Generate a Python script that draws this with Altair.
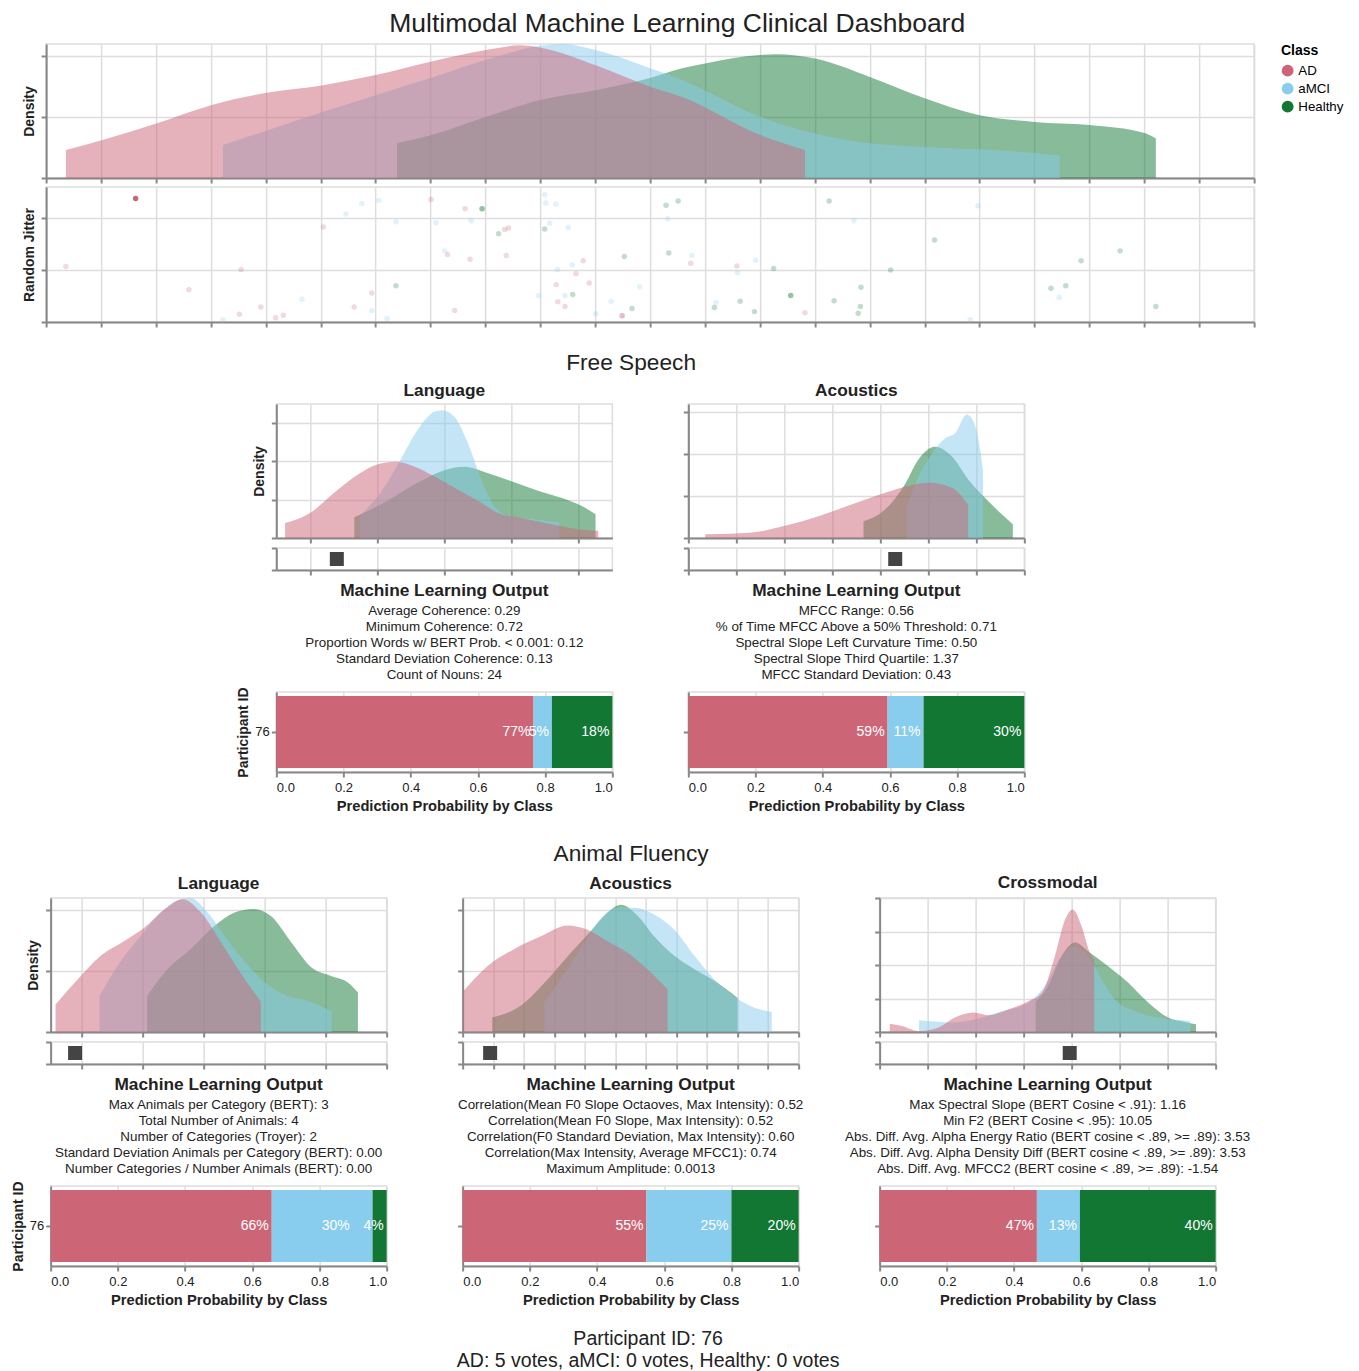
import altair as alt
import pandas as pd

FONT = "Liberation Sans"
CLASSES = ["AD", "aMCI", "Healthy"]
CLASS_COLORS = ["#CC6677", "#88CCEE", "#117733"]
AREA_DRAW_ORDER = ["Healthy", "aMCI", "AD"]
PARTICIPANT = "76"

MAIN_TITLE = "Multimodal Machine Learning Clinical Dashboard"
FOOTER = ["Participant ID: 76", "AD: 5 votes, aMCI: 0 votes, Healthy: 0 votes"]

# ---------------- overview (composite score, x in grid steps) ----------------
top_ad_x = [0.36, 1.01, 2.02, 3.02, 4.02, 5.02, 6.00, 7.00, 8.01, 8.63, 9.01, 10.01, 11.00, 11.58, 13.02, 13.82]
top_ad_y = [0.46, 0.62, 0.90, 1.20, 1.40, 1.52, 1.69, 1.91, 2.10, 2.18, 2.14, 1.85, 1.50, 1.33, 0.70, 0.46]
top_amci_x = [3.22, 4.02, 5.02, 6.00, 7.00, 8.01, 9.01, 9.39, 10.01, 11.00, 11.58, 13.02, 14.00, 15.00, 16.00, 17.00, 18.00, 18.46]
top_amci_y = [0.54, 0.78, 1.08, 1.36, 1.64, 1.94, 2.17, 2.20, 2.10, 1.80, 1.61, 1.00, 0.73, 0.57, 0.51, 0.47, 0.41, 0.37]
top_healthy_x = [6.39, 7.00, 8.00, 9.00, 10.00, 11.00, 11.58, 12.00, 13.00, 13.30, 14.00, 15.00, 16.00, 17.00, 18.00, 19.00, 20.00, 20.21]
top_healthy_y = [0.57, 0.70, 1.00, 1.28, 1.44, 1.64, 1.80, 1.88, 2.02, 2.03, 1.96, 1.66, 1.31, 1.03, 0.92, 0.87, 0.74, 0.65]

jit_ad_x = [0.36, 1.63, 2.60, 3.55, 3.52, 3.91, 4.18, 4.32, 5.05, 5.61, 5.93, 7.01, 7.31, 7.44, 7.63,
            8.35, 8.42, 7.72, 8.38, 9.78, 9.65, 9.29, 9.89, 9.32, 9.45, 10.49, 10.49, 11.74, 12.58, 13.82]
jit_ad_y = [1.07, 2.38, 0.62, 1.01, 0.15, 0.29, 0.08, 0.13, 1.83, 0.29, 0.56, 2.36, 1.30, 0.22, 2.18,
            1.78, 1.81, 1.21, 1.28, 1.18, 0.93, 0.72, 0.75, 0.39, 0.30, 0.12, 0.12, 1.13, 1.08, 0.18]
jit_amci_x = [3.22, 4.66, 5.46, 5.75, 6.06, 5.93, 6.21, 6.37, 7.10, 7.26, 7.74, 9.08, 9.10, 9.28, 9.17, 9.51,
              9.58, 9.31, 8.97, 9.45, 10.01, 10.29, 10.81, 11.32, 11.76, 12.59, 12.92, 12.20, 14.71, 16.97, 18.45, 16.83]
jit_amci_y = [0.04, 0.44, 2.08, 2.28, 2.34, 0.22, 0.07, 1.93, 1.91, 1.37, 1.95, 2.45, 2.29, 2.27, 1.90, 1.82,
              1.10, 1.01, 0.51, 0.51, 0.16, 0.40, 0.68, 1.99, 1.28, 0.95, 1.19, 0.37, 1.95, 2.24, 0.47, 0.05]
jit_healthy_x = [6.37, 7.94, 7.94, 8.24, 9.08, 9.59, 10.67, 10.53, 11.29, 11.51, 11.34, 13.25, 12.17, 12.64, 12.90,
                 13.56, 13.56, 14.26, 14.84, 14.35, 14.83, 14.79, 16.18, 15.38, 18.85, 19.56, 18.30, 18.57, 20.21]
jit_healthy_y = [0.70, 2.18, 2.18, 1.70, 1.79, 0.53, 0.26, 1.26, 2.25, 2.33, 1.33, 1.03, 0.28, 0.40, 0.20,
                 0.51, 0.51, 2.33, 0.67, 0.41, 0.30, 0.17, 1.58, 1.00, 1.18, 1.37, 0.65, 0.70, 0.30]
participant_point = ("AD", 1)  # class, index of participant 76 in the jitter arrays

# ---------------- Free Speech / Language ----------------
fsl_ad_x = [0.13, 0.51, 0.86, 1.25, 1.50, 1.78, 2.05, 2.35, 2.65, 3.00, 3.34, 3.59, 4.09, 4.49, 4.79]
fsl_ad_y = [0.39, 0.66, 1.18, 1.70, 1.92, 1.99, 1.87, 1.61, 1.31, 0.97, 0.62, 0.54, 0.36, 0.23, 0.19]
fsl_amci_x = [1.24, 1.55, 1.85, 2.10, 2.35, 2.47, 2.65, 2.85, 3.05, 3.24, 3.44, 3.84, 4.21]
fsl_amci_y = [0.58, 1.18, 2.05, 2.82, 3.30, 3.34, 3.17, 2.48, 1.53, 0.84, 0.58, 0.49, 0.41]
fsl_healthy_x = [1.16, 1.60, 2.10, 2.45, 2.80, 3.14, 3.49, 3.84, 4.24, 4.54, 4.75]
fsl_healthy_y = [0.54, 0.92, 1.44, 1.74, 1.86, 1.70, 1.49, 1.27, 1.05, 0.84, 0.62]
fsl_participant = 0.90
fsl_probs = [0.7655, 0.0545, 0.180]
fsl_label_shift = [0.0, 0.0, 0.0]
fsl_lines = ["Average Coherence: 0.29", "Minimum Coherence: 0.72",
             "Proportion Words w/ BERT Prob. < 0.001: 0.12",
             "Standard Deviation Coherence: 0.13", "Count of Nouns: 24"]

# ---------------- Free Speech / Acoustics ----------------
fsa_ad_x = [0.35, 1.32, 2.01, 2.71, 3.40, 4.10, 4.58, 5.00, 5.49, 5.83]
fsa_ad_y = [0.09, 0.13, 0.29, 0.52, 0.80, 1.08, 1.24, 1.32, 1.20, 0.80]
fsa_amci_x = [4.55, 4.79, 5.07, 5.35, 5.56, 5.80, 5.97, 6.08, 6.14]
fsa_amci_y = [0.76, 1.45, 2.00, 2.38, 2.50, 2.95, 2.70, 2.10, 1.60]
fsa_healthy_x = [3.65, 4.10, 4.51, 4.79, 5.14, 5.49, 5.83, 6.18, 6.46, 6.76]
fsa_healthy_y = [0.40, 0.68, 1.28, 1.87, 2.18, 1.95, 1.40, 0.96, 0.64, 0.33]
fsa_participant = 4.31
fsa_probs = [0.593, 0.107, 0.300]
fsa_label_shift = [0.0, 0.0, 0.0]
fsa_lines = ["MFCC Range: 0.56", "% of Time MFCC Above a 50% Threshold: 0.71",
             "Spectral Slope Left Curvature Time: 0.50", "Spectral Slope Third Quartile: 1.37",
             "MFCC Standard Deviation: 0.43"]

# ---------------- Animal Fluency / Language ----------------
afl_ad_x = [-0.42, -0.06, 0.32, 0.70, 1.03, 1.36, 1.66, 1.96, 2.29, 2.61, 2.94]
afl_ad_y = [0.45, 0.86, 1.25, 1.49, 1.71, 2.01, 2.18, 1.96, 1.47, 0.97, 0.50]
afl_amci_x = [0.30, 0.59, 0.97, 1.30, 1.63, 1.79, 2.07, 2.39, 2.72, 3.05, 3.38, 3.71, 4.10]
afl_amci_y = [0.59, 1.08, 1.57, 1.96, 2.18, 2.20, 1.96, 1.52, 1.11, 0.78, 0.59, 0.51, 0.34]
afl_healthy_x = [1.08, 1.41, 1.79, 2.18, 2.51, 2.81, 3.11, 3.44, 3.77, 4.09, 4.37, 4.53]
afl_healthy_y = [0.59, 1.03, 1.36, 1.74, 1.96, 2.02, 1.90, 1.47, 1.06, 0.92, 0.81, 0.65]
afl_participant = -0.10
afl_probs = [0.658, 0.300, 0.042]
afl_label_shift = [0.0, 0.059, 0.0]
afl_lines = ["Max Animals per Category (BERT): 3", "Total Number of Animals: 4",
             "Number of Categories (Troyer): 2",
             "Standard Deviation Animals per Category (BERT): 0.00",
             "Number Categories / Number Animals (BERT): 0.00"]

# ---------------- Animal Fluency / Acoustics ----------------
afa_ad_x = [0.02, 0.81, 1.68, 2.56, 3.43, 4.09, 4.74, 5.40, 6.05, 6.71]
afa_ad_y = [0.67, 1.08, 1.36, 1.57, 1.75, 1.68, 1.49, 1.30, 1.03, 0.70]
afa_amci_x = [2.67, 3.32, 3.98, 4.52, 5.07, 5.62, 6.27, 6.93, 7.59, 8.24, 9.00, 9.55, 10.12]
afa_amci_y = [0.48, 0.95, 1.47, 1.85, 2.04, 2.04, 1.93, 1.68, 1.25, 0.86, 0.54, 0.40, 0.33]
afa_healthy_x = [0.97, 1.90, 2.78, 3.54, 4.20, 4.74, 5.18, 5.73, 6.27, 6.93, 7.59, 8.24, 9.00]
afa_healthy_y = [0.24, 0.43, 0.86, 1.30, 1.66, 1.96, 2.09, 1.91, 1.57, 1.25, 1.03, 0.84, 0.56]
afa_participant = 0.90
afa_probs = [0.547, 0.253, 0.200]
afa_label_shift = [0.0, 0.0, 0.0]
afa_lines = ["Correlation(Mean F0 Slope Octaoves, Max Intensity): 0.52",
             "Correlation(Mean F0 Slope, Max Intensity): 0.52",
             "Correlation(F0 Standard Deviation, Max Intensity): 0.60",
             "Correlation(Max Intensity, Average MFCC1): 0.74",
             "Maximum Amplitude: 0.0013"]

# ---------------- Animal Fluency / Crossmodal ----------------
cm_ad_x = [0.21, 0.46, 0.81, 1.22, 1.57, 1.95, 2.26, 2.68, 3.10, 3.38, 3.65, 3.86, 4.02, 4.21, 4.38, 4.47]
cm_ad_y = [0.25, 0.18, 0.03, 0.13, 0.43, 0.58, 0.50, 0.67, 0.92, 1.17, 2.26, 3.34, 3.66, 3.15, 2.36, 2.16]
cm_amci_x = [0.82, 1.15, 1.50, 1.99, 2.54, 3.10, 3.44, 3.79, 4.07, 4.35, 4.63, 4.90, 5.32, 5.81, 6.47]
cm_amci_y = [0.35, 0.31, 0.28, 0.38, 0.62, 0.87, 1.37, 2.26, 2.55, 2.26, 1.56, 0.97, 0.62, 0.43, 0.33]
cm_healthy_x = [3.25, 3.51, 3.79, 4.07, 4.35, 4.76, 5.18, 5.60, 6.01, 6.36, 6.59]
cm_healthy_y = [0.90, 1.37, 2.26, 2.67, 2.40, 1.96, 1.47, 0.87, 0.43, 0.30, 0.23]
cm_participant = 3.96
cm_probs = [0.468, 0.128, 0.404]
cm_label_shift = [0.0, 0.0, 0.0]
cm_lines = ["Max Spectral Slope (BERT Cosine < .91): 1.16", "Min F2 (BERT Cosine < .95): 10.05",
            "Abs. Diff. Avg. Alpha Energy Ratio (BERT cosine < .89, >= .89): 3.53",
            "Abs. Diff. Avg. Alpha Density Diff (BERT cosine < .89, >= .89): 3.53",
            "Abs. Diff. Avg. MFCC2 (BERT cosine < .89, >= .89): -1.54"]

TOP_W = 1208
PANEL_W = 336
DENS_H = 134

color_scale = alt.Scale(domain=CLASSES, range=CLASS_COLORS)
LEGEND = alt.Legend(title="Class", symbolType="circle", symbolOpacity=1, symbolSize=140,
                    symbolStrokeWidth=0, titleFontSize=14, labelFontSize=13.3,
                    rowPadding=4, titlePadding=6, offset=25)


def color_enc():
    return alt.Color("Class:N", scale=color_scale, legend=LEGEND)


def density_chart(curves, xdom, xticks, ydom, yticks, width, title=None, yaxis=None, title_offset=5):
    if yaxis is None:
        yaxis = alt.Axis(values=yticks, labels=False, title=None)
    layers = []
    for cls in AREA_DRAW_ORDER:
        xs, ys = curves[cls]
        df = pd.DataFrame({"Class": [cls] * len(xs), "value": xs, "density": ys})
        layers.append(
            alt.Chart(df).mark_area(opacity=0.5, interpolate="monotone").encode(
                x=alt.X("value:Q", scale=alt.Scale(domain=xdom, nice=False, zero=False),
                        axis=alt.Axis(values=xticks, labels=False, title=None)),
                y=alt.Y("density:Q", stack=None, scale=alt.Scale(domain=ydom, nice=False),
                        axis=yaxis),
                color=color_enc(),
            )
        )
    ch = alt.layer(*layers).properties(width=width, height=DENS_H)
    if title:
        ch = ch.properties(title=alt.TitleParams(title, fontSize=17.3, fontWeight="bold",
                                                 anchor="middle", offset=title_offset))
    return ch


def strip_chart(value, xdom, xticks):
    df = pd.DataFrame({"value": [value], "row": [0.5]})
    return alt.Chart(df).mark_square(size=196, color="#444444", opacity=1).encode(
        x=alt.X("value:Q", scale=alt.Scale(domain=xdom, nice=False, zero=False),
                axis=alt.Axis(values=xticks, labels=False, title=None)),
        y=alt.Y("row:Q", scale=alt.Scale(domain=[0, 1], nice=False),
                axis=alt.Axis(values=[0, 1], labels=False, title=None, grid=False)),
    ).properties(width=PANEL_W, height=22)


def prob_chart(probs, shifts, lines, show_id):
    df = pd.DataFrame({"pid": [PARTICIPANT] * 3, "Class": CLASSES, "prob": probs,
                       "rank": [0, 1, 2], "shift": shifts})
    base = alt.Chart(df).transform_stack(
        stack="prob", groupby=["pid"], as_=["x0", "x1"], sort=[alt.SortField("rank")]
    ).transform_calculate(xl="datum.x1 - datum.shift")
    if show_id:
        yaxis = alt.Axis(title="Participant ID")
    else:
        yaxis = alt.Axis(labels=False, title="Participant ID", titleOpacity=0)
    bars = base.mark_bar().encode(
        x=alt.X("x0:Q", scale=alt.Scale(domain=[0, 1], nice=False),
                axis=alt.Axis(values=[0, 0.2, 0.4, 0.6, 0.8, 1.0], format=".1f", labelPadding=4,
                              title="Prediction Probability by Class", titleFontSize=14.7)),
        x2="x1:Q",
        y=alt.Y("pid:N", axis=yaxis),
        color=color_enc(),
    )
    text = base.mark_text(align="right", dx=-3, color="white", fontSize=14).encode(
        x="xl:Q", y="pid:N", text=alt.Text("prob:Q", format=".0%")
    )
    return (bars + text).properties(
        width=PANEL_W, height=80,
        title=alt.TitleParams("Machine Learning Output", subtitle=lines, fontSize=17.3,
                              fontWeight="bold", subtitleFontSize=13.4, subtitleLineHeight=16,
                              subtitlePadding=5, anchor="middle", offset=5),
    )


def panel(title, curves, xdom, xticks, ydom, yticks, participant, probs, shifts, lines, first,
          title_offset=5):
    yaxis = alt.Axis(values=yticks, labels=False, title="Density" if first else None)
    upper = alt.vconcat(
        density_chart(curves, xdom, xticks, ydom, yticks, PANEL_W, title=title, yaxis=yaxis,
                      title_offset=title_offset),
        strip_chart(participant, xdom, xticks),
        spacing=1,
    )
    return alt.vconcat(upper, prob_chart(probs, shifts, lines, first), spacing=4)


# ---------------- overview charts ----------------
top_xdom = [0, 22]
top_xticks = list(range(0, 23))


def overview_yaxis(ticks, title):
    # tick labels are not shown in the dashboard; they only reserve space on the left
    return alt.Axis(values=ticks, labels=True, labelOpacity=0, labelPadding=9,
                    title=title, titleX=-10)


top_density = density_chart(
    {"AD": (top_ad_x, top_ad_y), "aMCI": (top_amci_x, top_amci_y), "Healthy": (top_healthy_x, top_healthy_y)},
    top_xdom, top_xticks, [0, 2.2], [0, 1, 2], TOP_W, yaxis=overview_yaxis([0, 1, 2], "Density"))

jrows = []
for cls, xs, ys in [("AD", jit_ad_x, jit_ad_y), ("aMCI", jit_amci_x, jit_amci_y),
                    ("Healthy", jit_healthy_x, jit_healthy_y)]:
    for i, (x, y) in enumerate(zip(xs, ys)):
        jrows.append({"Class": cls, "value": x, "jitter": y, "highlight": (cls, i) == participant_point})
jdf = pd.DataFrame(jrows)

jx = alt.X("value:Q", scale=alt.Scale(domain=top_xdom, nice=False, zero=False),
           axis=alt.Axis(values=top_xticks, labels=False, title=None))
jy = alt.Y("jitter:Q", scale=alt.Scale(domain=[0, 2.6], nice=False),
           axis=overview_yaxis([0, 1, 2], "Random Jitter"))
faint = alt.Chart(jdf[~jdf["highlight"]]).mark_circle(size=30, opacity=0.25).encode(
    x=jx, y=jy, color=color_enc())
focus = alt.Chart(jdf[jdf["highlight"]]).mark_circle(size=30, opacity=1).encode(
    x=jx, y=jy, color=color_enc())
jitter = alt.layer(faint, focus).properties(width=TOP_W, height=135)

top_group = alt.vconcat(top_density, jitter, spacing=0)

# ---------------- rows ----------------
fs_lang = panel("Language", {"AD": (fsl_ad_x, fsl_ad_y), "aMCI": (fsl_amci_x, fsl_amci_y),
                             "Healthy": (fsl_healthy_x, fsl_healthy_y)},
                [0, 5], [0.5, 1.5, 2.5, 3.5, 4.5], [0, 3.5], [0, 1, 2, 3],
                fsl_participant, fsl_probs, fsl_label_shift, fsl_lines, True)
fs_ac = panel("Acoustics", {"AD": (fsa_ad_x, fsa_ad_y), "aMCI": (fsa_amci_x, fsa_amci_y),
                            "Healthy": (fsa_healthy_x, fsa_healthy_y)},
              [0, 7], list(range(0, 8)), [0, 3.2], [0, 1, 2, 3],
              fsa_participant, fsa_probs, fsa_label_shift, fsa_lines, False)
af_lang = panel("Language", {"AD": (afl_ad_x, afl_ad_y), "aMCI": (afl_amci_x, afl_amci_y),
                             "Healthy": (afl_healthy_x, afl_healthy_y)},
                [-0.5, 5], list(range(0, 6)), [0, 2.2], [0, 1, 2],
                afl_participant, afl_probs, afl_label_shift, afl_lines, True, title_offset=6)
af_ac = panel("Acoustics", {"AD": (afa_ad_x, afa_ad_y), "aMCI": (afa_amci_x, afa_amci_y),
                            "Healthy": (afa_healthy_x, afa_healthy_y)},
              [0, 11], list(range(0, 12)), [0, 2.2], [0, 1, 2],
              afa_participant, afa_probs, afa_label_shift, afa_lines, False, title_offset=6)
af_cm = panel("Crossmodal", {"AD": (cm_ad_x, cm_ad_y), "aMCI": (cm_amci_x, cm_amci_y),
                             "Healthy": (cm_healthy_x, cm_healthy_y)},
              [0, 7], list(range(0, 8)), [0, 4], [0, 1, 2, 3, 4],
              cm_participant, cm_probs, cm_label_shift, cm_lines, False, title_offset=6)

fs_row = alt.hconcat(fs_lang, fs_ac, spacing=49).properties(
    title=alt.TitleParams("Free Speech", fontSize=22.7, fontWeight="normal", anchor="middle", offset=6))
af_row = alt.hconcat(af_lang, alt.hconcat(af_ac, af_cm, spacing=38), spacing=49).properties(
    title=alt.TitleParams("Animal Fluency", fontSize=22.7, fontWeight="normal", anchor="middle", offset=7))

sections = alt.vconcat(fs_row, af_row, spacing=29, center=True)

inner = alt.vconcat(top_group, sections, spacing=22, center=True).properties(
    title=alt.TitleParams(FOOTER, orient="bottom", fontSize=19.5, fontWeight="normal",
                          lineHeight=22, anchor="middle", offset=23, dx=15))

chart = alt.vconcat(inner).properties(
    title=alt.TitleParams(MAIN_TITLE, fontSize=26.5, fontWeight="normal", anchor="middle", offset=6),
    padding={"left": 2, "top": 2, "right": 0, "bottom": 0},
).configure(font=FONT).configure_axis(
    domainColor="#888888", domainWidth=2, tickColor="#888888", tickWidth=2, tickSize=5,
    gridColor="#dddddd", gridWidth=1.5, labelFontSize=13, labelColor="#222222",
    titleFontSize=14, titleFontWeight="bold", titleColor="#222222",
).configure_view(stroke="#dddddd", strokeWidth=1.5).configure_title(
    color="#222222", subtitleColor="#222222"
)

chart.save("out.html", embed_options={"renderer": "svg", "actions": False})
